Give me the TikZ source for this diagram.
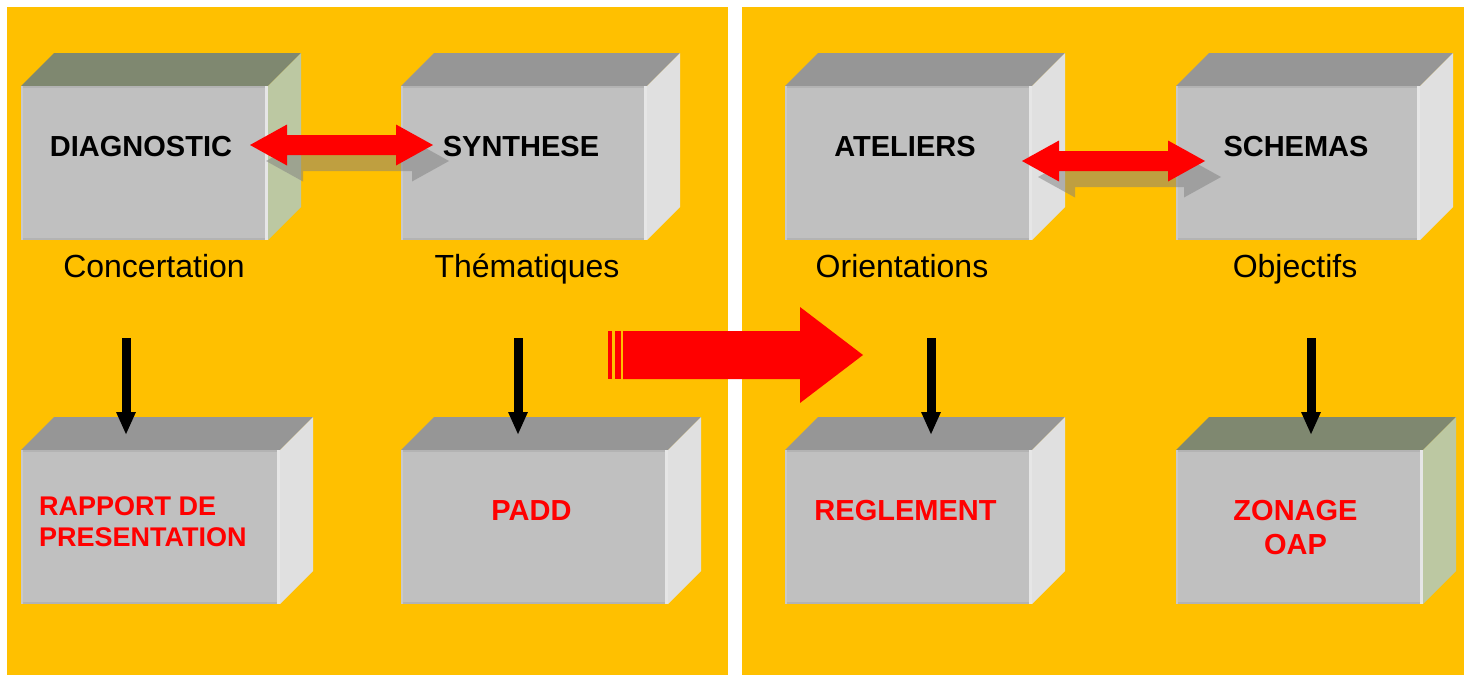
\documentclass[tikz,border=0pt]{standalone}
\usepackage{fontspec}
\setmainfont{Liberation Sans}
\usetikzlibrary{calc,arrows.meta}
\definecolor{panelorange}{HTML}{FFC000}
\definecolor{frontgray}{HTML}{C0C0C0}
\definecolor{topgray}{HTML}{969696}
\definecolor{sidegray}{HTML}{E0E0E0}
\definecolor{topgreen}{HTML}{7F8870}
\definecolor{sidegreen}{HTML}{BCC8A2}
\definecolor{bevellight}{HTML}{E6E6E6}
\definecolor{beveldark}{HTML}{B3B3B3}
\tikzset{
 frontface/.style={fill=frontgray, draw=none, inner sep=0pt, outer sep=0pt, anchor=north west},
 boxtitle/.style={font=\fontsize{29}{34}\selectfont\bfseries, inner sep=0pt, anchor=base},
 boxtext/.style={font=\fontsize{29}{34}\selectfont\bfseries, text=red, inner sep=0pt, align=center},
 caption/.style={font=\fontsize{32}{38}\selectfont, inner sep=0pt, anchor=base},
 downarrow/.style={line width=9pt, -{Triangle[width=18pt,length=23pt]}},
 redarrow/.style={fill=red},
 shadowarrow/.style={fill=gray, fill opacity=0.5},
}
\newcommand\cubebox[7]{%
 \pgfmathsetmacro\cbw{#4-#2}\pgfmathsetmacro\cbh{#5-#3}%
 \node[frontface, minimum width=\cbw pt, minimum height=\cbh pt] (#1) at (#2,#3) {};
 \fill[#6] (#1.north west) -- ++(33,-33) -- ($(#1.north east)+(33,-33)$) -- (#1.north east) -- cycle;
 \fill[#7] (#1.north east) -- ++(33,-33) -- ($(#1.south east)+(33,-33)$) -- (#1.south east) -- cycle;
 \draw[beveldark, line width=2pt] ($(#1.north west)+(0,1)$) -- ($(#1.north east)+(0,1)$);
 \draw[beveldark, line width=2pt] ($(#1.south west)+(0,-1)$) -- ($(#1.south east)+(0,-1)$);
 \draw[bevellight, line width=3pt] ($(#1.north east)+(-1.5,0)$) -- ($(#1.south east)+(-1.5,0)$);
 \draw[frontgray!85!white, line width=1.5pt] ($(#1.north west)+(0.75,0)$) -- ($(#1.south west)+(0.75,0)$);
}
\newcommand\dblarrow[3]{%
 \fill[#1] (#2) -- ++(37,-20.5) -- ++(0,10.5) -- ($(#3)+(-37,-10)$) -- ++(0,-10.5) -- (#3) -- ++(-37,20.5) -- ++(0,-10.5) -- ($(#2)+(37,10)$) -- ++(0,10.5) -- cycle;}
\begin{document}
\begin{tikzpicture}[x=1pt,y=-1pt]
\useasboundingbox (0,0) rectangle (1470,675);
\fill[white] (0,0) rectangle (1470,675);
% panels
\fill[panelorange] (7,7) rectangle (728,675);
\fill[panelorange] (742,7) rectangle (1464,675);
% boxes
\cubebox{diag}{21}{86}{268}{240}{topgreen}{sidegreen}
\cubebox{synth}{401}{86}{647}{240}{topgray}{sidegray}
\cubebox{atel}{785}{86}{1032}{240}{topgray}{sidegray}
\cubebox{schem}{1176}{86}{1420}{240}{topgray}{sidegray}
\cubebox{rapp}{21}{450}{280}{604}{topgray}{sidegray}
\cubebox{padd}{401}{450}{668}{604}{topgray}{sidegray}
\cubebox{regl}{785}{450}{1032}{604}{topgray}{sidegray}
\cubebox{zon}{1176}{450}{1423}{604}{topgreen}{sidegreen}
% double arrows
\coordinate (dl) at (250,145); \coordinate (dr) at (433,145);
\coordinate (dls) at (266,161); \coordinate (drs) at (449,161);
\coordinate (el) at (1022,161); \coordinate (er) at (1205,161);
\coordinate (els) at (1038,177); \coordinate (ers) at (1221,177);
\dblarrow{shadowarrow}{dls}{drs}
\dblarrow{redarrow}{dl}{dr}
\dblarrow{shadowarrow}{els}{ers}
\dblarrow{redarrow}{el}{er}
% big arrow
\coordinate (bigtail) at (623,355); \coordinate (bigtip) at (863,355);
\fill[red] (bigtail) ++(0,-24) -- ($(bigtip)+(-63,-24)$) -- ++(0,-24) -- (bigtip) -- ($(bigtip)+(-63,48)$) -- ++(0,-24) -- ($(bigtail)+(0,24)$) -- cycle;
\fill[red] ($(bigtail)+(-15,-24)$) rectangle ($(bigtail)+(-11,24)$);
\fill[red] ($(bigtail)+(-8,-24)$) rectangle ($(bigtail)+(-2,24)$);
% titles
\node[boxtitle] (tdiag) at (141,156) {DIAGNOSTIC};
\node[boxtitle] (tsynth) at (521,156) {SYNTHESE};
\node[boxtitle] (tatel) at (905,156) {ATELIERS};
\node[boxtitle] (tschem) at (1296,156) {SCHEMAS};
% captions
\node[caption] (cconc) at (154,277) {Concertation};
\node[caption] (cthem) at (527,277) {Thématiques};
\node[caption] (corie) at (902,277) {Orientations};
\node[caption] (cobj) at (1295,277) {Objectifs};
% down arrows
\coordinate (s1) at (126,338); \coordinate (t1) at (126,435);
\coordinate (s2) at (518,338); \coordinate (t2) at (518,435);
\coordinate (s3) at (931,338); \coordinate (t3) at (931,435);
\coordinate (s4) at (1311,338); \coordinate (t4) at (1311,435);
\draw[downarrow] (s1) -- (t1);
\draw[downarrow] (s2) -- (t2);
\draw[downarrow] (s3) -- (t3);
\draw[downarrow] (s4) -- (t4);
% red labels
\node[boxtext, font=\fontsize{27}{31}\selectfont\bfseries, align=left, anchor=west] (lrapp) at (39,521.5) {RAPPORT DE\\PRESENTATION};
\node[boxtext] (lpadd) at (531.5,511) {PADD};
\node[boxtext] (lregl) at (905.5,511) {REGLEMENT};
\node[boxtext] (lzon) at (1295.5,528) {ZONAGE\\OAP};
\end{tikzpicture}
\end{document}
